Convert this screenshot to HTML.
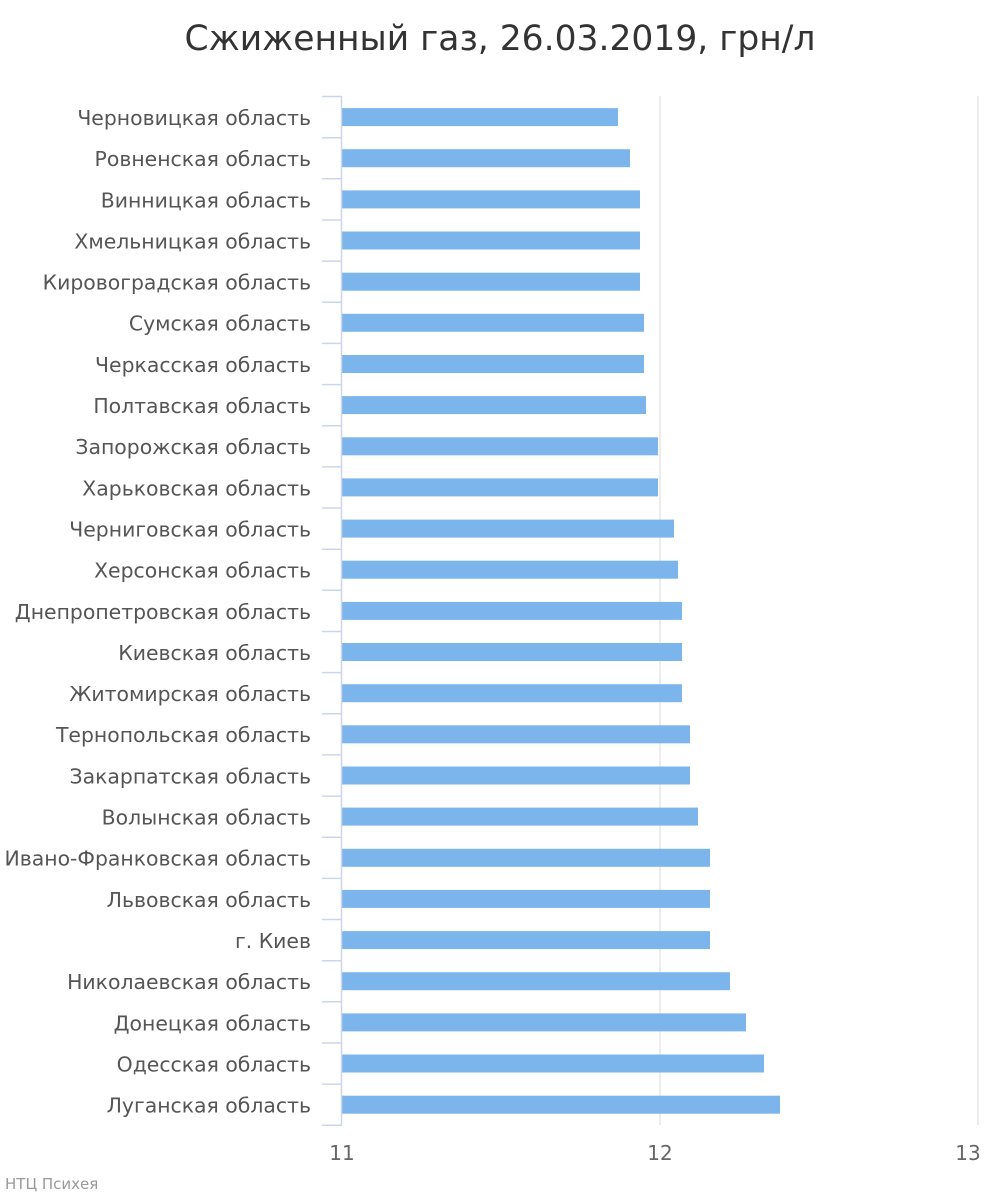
<!DOCTYPE html>
<html><head><meta charset="utf-8"><style>
body{margin:0;background:#fff;}
svg{display:block;font-family:"DejaVu Sans","Liberation Sans",sans-serif;}
</style></head><body>
<svg width="1000" height="1200" xmlns="http://www.w3.org/2000/svg">
<rect width="1000" height="1200" fill="#fff"/>
<text x="500" y="50" text-anchor="middle" font-size="34.5" fill="#333">Сжиженный газ, 26.03.2019, грн/л</text>
<line x1="660" y1="96" x2="660" y2="1125" stroke="#e6e6e6" stroke-width="1.5"/>
<line x1="978" y1="96" x2="978" y2="1125" stroke="#e6e6e6" stroke-width="1.5"/>
<g fill="#7cb5ec">
<rect x="342" y="108.1" width="276" height="18"/>
<rect x="342" y="149.2" width="288" height="18"/>
<rect x="342" y="190.4" width="298" height="18"/>
<rect x="342" y="231.5" width="298" height="18"/>
<rect x="342" y="272.7" width="298" height="18"/>
<rect x="342" y="313.8" width="302" height="18"/>
<rect x="342" y="355.0" width="302" height="18"/>
<rect x="342" y="396.1" width="304" height="18"/>
<rect x="342" y="437.3" width="316" height="18"/>
<rect x="342" y="478.4" width="316" height="18"/>
<rect x="342" y="519.6" width="332" height="18"/>
<rect x="342" y="560.7" width="336" height="18"/>
<rect x="342" y="601.9" width="340" height="18"/>
<rect x="342" y="643.0" width="340" height="18"/>
<rect x="342" y="684.2" width="340" height="18"/>
<rect x="342" y="725.3" width="348" height="18"/>
<rect x="342" y="766.5" width="348" height="18"/>
<rect x="342" y="807.6" width="356" height="18"/>
<rect x="342" y="848.8" width="368" height="18"/>
<rect x="342" y="889.9" width="368" height="18"/>
<rect x="342" y="931.1" width="368" height="18"/>
<rect x="342" y="972.2" width="388" height="18"/>
<rect x="342" y="1013.4" width="404" height="18"/>
<rect x="342" y="1054.5" width="422" height="18"/>
<rect x="342" y="1095.7" width="438" height="18"/>
</g>
<g font-size="20.4" fill="#555" text-anchor="end">
<text x="311" y="125">Черновицкая область</text>
<text x="311" y="166.1">Ровненская область</text>
<text x="311" y="207.3">Винницкая область</text>
<text x="311" y="248.4">Хмельницкая область</text>
<text x="311" y="289.6">Кировоградская область</text>
<text x="311" y="330.7">Сумская область</text>
<text x="311" y="371.9">Черкасская область</text>
<text x="311" y="413">Полтавская область</text>
<text x="311" y="454.2">Запорожская область</text>
<text x="311" y="495.3">Харьковская область</text>
<text x="311" y="536.5">Черниговская область</text>
<text x="311" y="577.6">Херсонская область</text>
<text x="311" y="618.8">Днепропетровская область</text>
<text x="311" y="659.9">Киевская область</text>
<text x="311" y="701.1">Житомирская область</text>
<text x="311" y="742.2">Тернопольская область</text>
<text x="311" y="783.4">Закарпатская область</text>
<text x="311" y="824.5">Волынская область</text>
<text x="311" y="865.7">Ивано-Франковская область</text>
<text x="311" y="906.8">Львовская область</text>
<text x="311" y="948">г. Киев</text>
<text x="311" y="989.1">Николаевская область</text>
<text x="311" y="1030.3">Донецкая область</text>
<text x="311" y="1071.4">Одесская область</text>
<text x="311" y="1112.6">Луганская область</text>
</g>
<path stroke="#ccd6eb" stroke-width="1.5" fill="none" d="M341.5 96V1125.3 M322 96.5H342 M322 137.7H342 M322 178.8H342 M322 220H342 M322 261.1H342 M322 302.3H342 M322 343.4H342 M322 384.6H342 M322 425.7H342 M322 466.9H342 M322 508H342 M322 549.2H342 M322 590.3H342 M322 631.5H342 M322 672.6H342 M322 713.8H342 M322 754.9H342 M322 796.1H342 M322 837.2H342 M322 878.4H342 M322 919.5H342 M322 960.7H342 M322 1001.8H342 M322 1043H342 M322 1084.1H342 M322 1125.3H342"/>
<g font-size="20" fill="#666" text-anchor="middle">
<text x="342" y="1160">11</text><text x="660" y="1160">12</text><text x="968" y="1160">13</text>
</g>
<text x="5" y="1189" font-size="15" fill="#999">НТЦ Психея</text>
</svg>
</body></html>
